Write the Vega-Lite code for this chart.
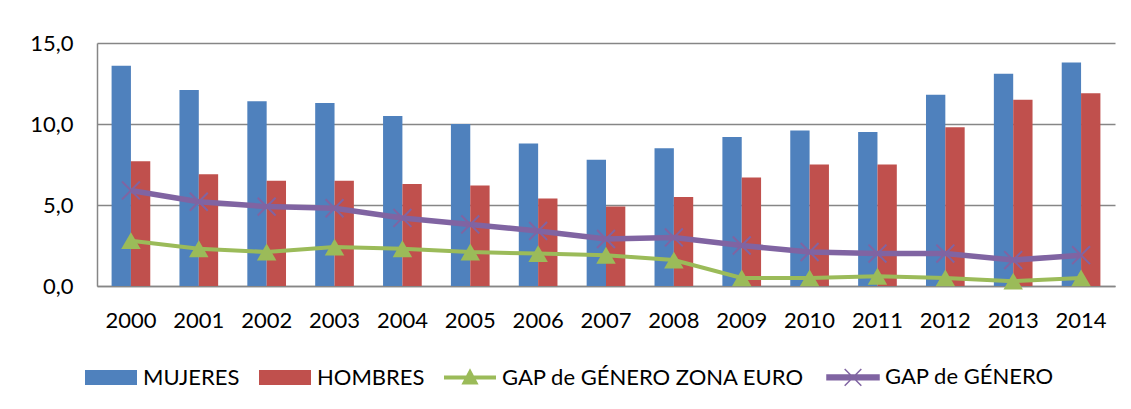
{
  "$schema": "https://vega.github.io/schema/vega-lite/v6.json",
  "width": 1018,
  "height": 243,
  "autosize": {"type": "none"},
  "padding": {"left": 97, "top": 43, "right": 16, "bottom": 123},
  "background": "white",
  "config": {
    "view": {"stroke": null},
    "axis": {"labelFont": "Lato", "labelFontSize": 22, "labelColor": "#000000"},
    "legend": {"labelFont": "Lato", "labelFontSize": 22, "labelColor": "#000000", "symbolSize": 2704, "labelLimit": 500}
  },
  "data": {
    "values": [
      {"year": "2000", "serie": "MUJERES", "value": 13.6},
      {"year": "2001", "serie": "MUJERES", "value": 12.1},
      {"year": "2002", "serie": "MUJERES", "value": 11.4},
      {"year": "2003", "serie": "MUJERES", "value": 11.3},
      {"year": "2004", "serie": "MUJERES", "value": 10.5},
      {"year": "2005", "serie": "MUJERES", "value": 10.0},
      {"year": "2006", "serie": "MUJERES", "value": 8.8},
      {"year": "2007", "serie": "MUJERES", "value": 7.8},
      {"year": "2008", "serie": "MUJERES", "value": 8.5},
      {"year": "2009", "serie": "MUJERES", "value": 9.2},
      {"year": "2010", "serie": "MUJERES", "value": 9.6},
      {"year": "2011", "serie": "MUJERES", "value": 9.5},
      {"year": "2012", "serie": "MUJERES", "value": 11.8},
      {"year": "2013", "serie": "MUJERES", "value": 13.1},
      {"year": "2014", "serie": "MUJERES", "value": 13.8},
      {"year": "2000", "serie": "HOMBRES", "value": 7.7},
      {"year": "2001", "serie": "HOMBRES", "value": 6.9},
      {"year": "2002", "serie": "HOMBRES", "value": 6.5},
      {"year": "2003", "serie": "HOMBRES", "value": 6.5},
      {"year": "2004", "serie": "HOMBRES", "value": 6.3},
      {"year": "2005", "serie": "HOMBRES", "value": 6.2},
      {"year": "2006", "serie": "HOMBRES", "value": 5.4},
      {"year": "2007", "serie": "HOMBRES", "value": 4.9},
      {"year": "2008", "serie": "HOMBRES", "value": 5.5},
      {"year": "2009", "serie": "HOMBRES", "value": 6.7},
      {"year": "2010", "serie": "HOMBRES", "value": 7.5},
      {"year": "2011", "serie": "HOMBRES", "value": 7.5},
      {"year": "2012", "serie": "HOMBRES", "value": 9.8},
      {"year": "2013", "serie": "HOMBRES", "value": 11.5},
      {"year": "2014", "serie": "HOMBRES", "value": 11.9},
      {"year": "2000", "serie": "GAP de GÉNERO ZONA EURO", "value": 2.8},
      {"year": "2001", "serie": "GAP de GÉNERO ZONA EURO", "value": 2.3},
      {"year": "2002", "serie": "GAP de GÉNERO ZONA EURO", "value": 2.1},
      {"year": "2003", "serie": "GAP de GÉNERO ZONA EURO", "value": 2.4},
      {"year": "2004", "serie": "GAP de GÉNERO ZONA EURO", "value": 2.3},
      {"year": "2005", "serie": "GAP de GÉNERO ZONA EURO", "value": 2.1},
      {"year": "2006", "serie": "GAP de GÉNERO ZONA EURO", "value": 2.0},
      {"year": "2007", "serie": "GAP de GÉNERO ZONA EURO", "value": 1.9},
      {"year": "2008", "serie": "GAP de GÉNERO ZONA EURO", "value": 1.6},
      {"year": "2009", "serie": "GAP de GÉNERO ZONA EURO", "value": 0.5},
      {"year": "2010", "serie": "GAP de GÉNERO ZONA EURO", "value": 0.5},
      {"year": "2011", "serie": "GAP de GÉNERO ZONA EURO", "value": 0.6},
      {"year": "2012", "serie": "GAP de GÉNERO ZONA EURO", "value": 0.5},
      {"year": "2013", "serie": "GAP de GÉNERO ZONA EURO", "value": 0.3},
      {"year": "2014", "serie": "GAP de GÉNERO ZONA EURO", "value": 0.5},
      {"year": "2000", "serie": "GAP de GÉNERO", "value": 5.9},
      {"year": "2001", "serie": "GAP de GÉNERO", "value": 5.2},
      {"year": "2002", "serie": "GAP de GÉNERO", "value": 4.9},
      {"year": "2003", "serie": "GAP de GÉNERO", "value": 4.8},
      {"year": "2004", "serie": "GAP de GÉNERO", "value": 4.2},
      {"year": "2005", "serie": "GAP de GÉNERO", "value": 3.8},
      {"year": "2006", "serie": "GAP de GÉNERO", "value": 3.4},
      {"year": "2007", "serie": "GAP de GÉNERO", "value": 2.9},
      {"year": "2008", "serie": "GAP de GÉNERO", "value": 3.0},
      {"year": "2009", "serie": "GAP de GÉNERO", "value": 2.5},
      {"year": "2010", "serie": "GAP de GÉNERO", "value": 2.1},
      {"year": "2011", "serie": "GAP de GÉNERO", "value": 2.0},
      {"year": "2012", "serie": "GAP de GÉNERO", "value": 2.0},
      {"year": "2013", "serie": "GAP de GÉNERO", "value": 1.6},
      {"year": "2014", "serie": "GAP de GÉNERO", "value": 1.9}
    ]
  },
  "encoding": {
    "x": {
      "field": "year", "type": "ordinal",
      "scale": {"paddingInner": 0.43, "paddingOuter": 0.215},
      "axis": {"title": null, "labelAngle": 0, "ticks": false, "domain": true, "domainColor": "#868686", "domainWidth": 1.5, "labelPadding": 24, "grid": false}
    },
    "y": {
      "field": "value", "type": "quantitative",
      "scale": {"domain": [0, 15], "nice": false},
      "axis": {"title": null, "values": [0, 5, 10, 15], "grid": true, "gridColor": "#868686", "gridWidth": 1.5, "domain": true, "domainColor": "#868686", "domainWidth": 1.5, "ticks": false, "labelPadding": 24, "labelExpr": "replace(format(datum.value, '.1f'), '.', ',')"}
    },
    "color": {
      "field": "serie", "type": "nominal",
      "scale": {
        "domain": ["MUJERES", "HOMBRES", "GAP de GÉNERO ZONA EURO", "GAP de GÉNERO"],
        "range": ["#4F81BD", "#C0504D", "#9BBB59", "#8064A2"]
      },
      "legend": {
        "title": null,
        "orient": "none",
        "direction": "horizontal",
        "legendX": 3,
        "legendY": 323,
        "symbolSize": 2704,
        "labelOffset": 21,
        "columnPadding": 19,
        "labelLimit": 500,
        "encode": {
          "symbols": {
            "update": {
              "shape": {"signal": "(datum.value == 'MUJERES' || datum.value == 'HOMBRES') ? 'M-1,-0.29H1V0.29H-1Z' : (datum.value == 'GAP de GÉNERO' ? 'M-1,-0.09H1V0.09H-1Z M-0.32,-0.32L0.32,0.32 M-0.32,0.32L0.32,-0.32' : 'M-1,-0.08H1V0.08H-1Z M0,-0.36L0.33,0.27L-0.33,0.27Z')"},
              "size": {"value": 2704},
              "fill": {"scale": "color", "field": "value"},
              "stroke": {"scale": "color", "field": "value"},
              "strokeWidth": {"signal": "datum.value == 'GAP de GÉNERO' ? 1.5 : 0"},
              "strokeDash": {"value": []},
              "opacity": {"value": 1}
            }
          }
        }
      }
    }
  },
  "layer": [
    {
      "transform": [{"filter": {"field": "serie", "oneOf": ["MUJERES", "HOMBRES"]}}],
      "mark": {"type": "bar"},
      "encoding": {
        "xOffset": {"field": "serie", "type": "nominal", "scale": {"domain": ["MUJERES", "HOMBRES"], "paddingInner": 0, "paddingOuter": 0}}
      }
    },
    {
      "transform": [{"filter": {"field": "serie", "equal": "GAP de GÉNERO ZONA EURO"}}],
      "mark": {"type": "line", "strokeWidth": 4}
    },
    {
      "transform": [{"filter": {"field": "serie", "equal": "GAP de GÉNERO"}}],
      "mark": {"type": "line", "strokeWidth": 5.5}
    },
    {
      "transform": [{"filter": {"field": "serie", "equal": "GAP de GÉNERO ZONA EURO"}}],
      "mark": {"type": "point", "shape": "triangle-up", "filled": true, "size": 380, "opacity": 1}
    },
    {
      "transform": [{"filter": {"field": "serie", "equal": "GAP de GÉNERO"}}],
      "mark": {"type": "point", "shape": "M-1,-1L1,1M-1,1L1,-1", "filled": false, "size": 320, "strokeWidth": 2, "opacity": 1}
    }
  ]
}
